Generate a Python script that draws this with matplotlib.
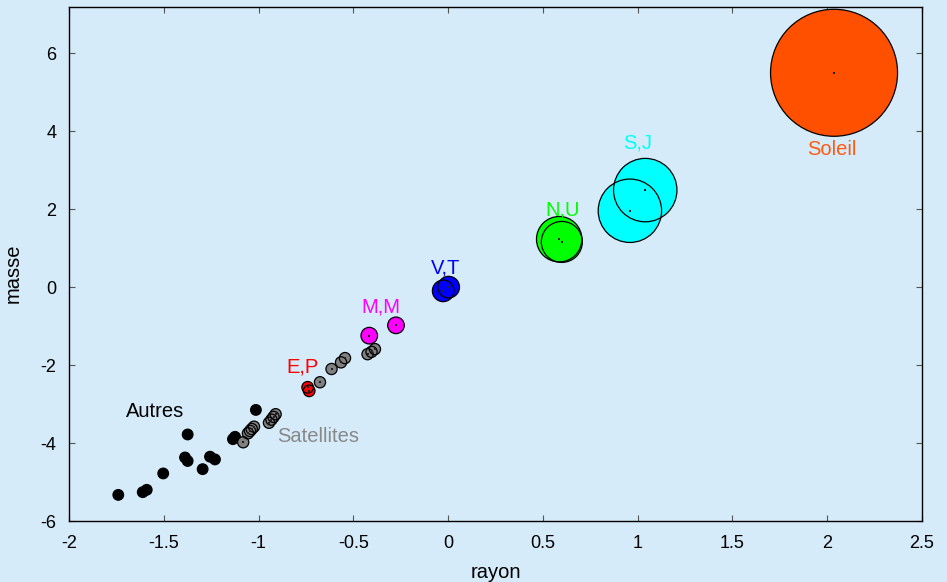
import matplotlib
matplotlib.use("Agg")
import matplotlib.pyplot as plt

# ---------------- data (log10 radius, log10 mass, relative to Earth) ----------------
soleil_x = [2.036]
soleil_y = [5.50]
sj_x = [0.959, 1.040]          # Saturne, Jupiter
sj_y = [1.96, 2.49]
nu_x = [0.586, 0.600]          # Neptune, Uranus
nu_y = [1.23, 1.16]
vt_x = [-0.026, 0.003]         # Venus, Terre
vt_y = [-0.095, 0.0]
mm_x = [-0.416, -0.275]        # Mercure, Mars
mm_y = [-1.245, -0.98]
ep_x = [-0.741, -0.733]        # Eris, Pluton
ep_y = [-2.57, -2.66]
sat_x = [-1.081, -1.056, -1.045, -1.036, -1.024,
         -0.945, -0.932, -0.921, -0.910,
         -0.676, -0.615, -0.565, -0.544,
         -0.425, -0.404, -0.386]
sat_y = [-3.98, -3.75, -3.69, -3.64, -3.58,
         -3.48, -3.40, -3.33, -3.26,
         -2.44, -2.10, -1.93, -1.82,
         -1.72, -1.66, -1.59]
autres_x = [-1.740, -1.611, -1.590, -1.503, -1.374, -1.388, -1.374,
            -1.295, -1.256, -1.230, -1.014, -1.124, -1.135]
autres_y = [-5.33, -5.26, -5.20, -4.78, -3.78, -4.37, -4.46,
            -4.67, -4.35, -4.42, -3.15, -3.84, -3.90]

xticks = [-2, -1.5, -1, -0.5, 0, 0.5, 1, 1.5, 2, 2.5]
xticklabels = ["-2", "-1.5", "-1", "-0.5", "0", "0.5", "1", "1.5", "2", "2.5"]
yticks = [-6, -4, -2, 0, 2, 4, 6]
yticklabels = ["-6", "-4", "-2", "0", "2", "4", "6"]

# ---------------- style ----------------
BG = "#d5ebf9"
plt.rcParams['font.family'] = ['Liberation Sans', 'DejaVu Sans']
plt.rcParams['font.size'] = 13

DPI = 100
fig = plt.figure(figsize=(9.47, 5.82), dpi=DPI, facecolor=BG)
ax = fig.add_axes([69 / 947, 1 - 521 / 582, (922 - 69) / 947, (521 - 7.3) / 582])
ax.set_facecolor(BG)


def s_of(rpx):
    d = 2 * rpx * 72.0 / DPI
    return d * d


groups = [
    # x, y, color, radii in px, center dot
    (autres_x, autres_y, "#000000", [5.3] * len(autres_x), False),
    (sat_x, sat_y, "#808080", [5.6] * len(sat_x), True),
    (ep_x, ep_y, "#ff0000", [5.8, 5.8], True),
    (mm_x, mm_y, "#ff00ff", [8.3, 8.3], True),
    (vt_x, vt_y, "#0000ff", [10.8, 10.8], True),
    (nu_x, nu_y, "#00ff00", [22.7, 20.5], True),
    (sj_x, sj_y, "#00ffff", [31.7, 31.7], True),
    (soleil_x, soleil_y, "#ff5000", [63.5], True),
]

z = 3
for gx, gy, col, radii, dot in groups:
    sizes = [s_of(r) for r in radii]
    ax.scatter(gx, gy, s=sizes, c=col, edgecolors="none", zorder=z)
    ax.scatter(gx, gy, s=sizes, facecolors="none", edgecolors="black",
               linewidths=0.9, zorder=z + 0.1)
    if dot:
        ax.scatter(gx, gy, s=1.2, c="#222222", marker="s", linewidths=0, zorder=z + 0.2)
    z += 0.5

labels = [
    ("Soleil", 2.024, 3.52, "#ff5a10"),
    ("S,J", 1.001, 3.70, "#00ffff"),
    ("N,U", 0.605, 1.98, "#00ff00"),
    ("V,T", -0.012, 0.49, "#0000ff"),
    ("M,M", -0.354, -0.51, "#ff00ff"),
    ("E,P", -0.766, -2.05, "#ff0000"),
    ("Autres", -1.546, -3.20, "#000000"),
    ("Satellites", -0.687, -3.82, "#888888"),
]
for t, x, y, c in labels:
    ax.text(x, y, t, color=c, ha="center", va="center", fontsize=14.5, zorder=10)

ax.set_xlim(-2, 2.5)
ax.set_ylim(-6, 7.18)
ax.set_xticks(xticks)
ax.set_xticklabels(xticklabels)
ax.set_yticks(yticks)
ax.set_yticklabels(yticklabels)
ax.tick_params(direction="in", length=4, width=0.8, color="#555555",
               top=True, right=True, labelsize=13)
ax.tick_params(axis="x", pad=10)
ax.tick_params(axis="y", pad=9)
for sp in ax.spines.values():
    sp.set_linewidth(1.0)
    sp.set_color("black")

fig.text(495.5 / 947, 1 - 572 / 582, "rayon", ha="center", va="center", fontsize=14.5)
fig.text(13 / 947, 1 - 273 / 582, "masse", ha="center", va="center", rotation=90, fontsize=14.5)

fig.savefig("out.png", dpi=DPI, facecolor=BG)
